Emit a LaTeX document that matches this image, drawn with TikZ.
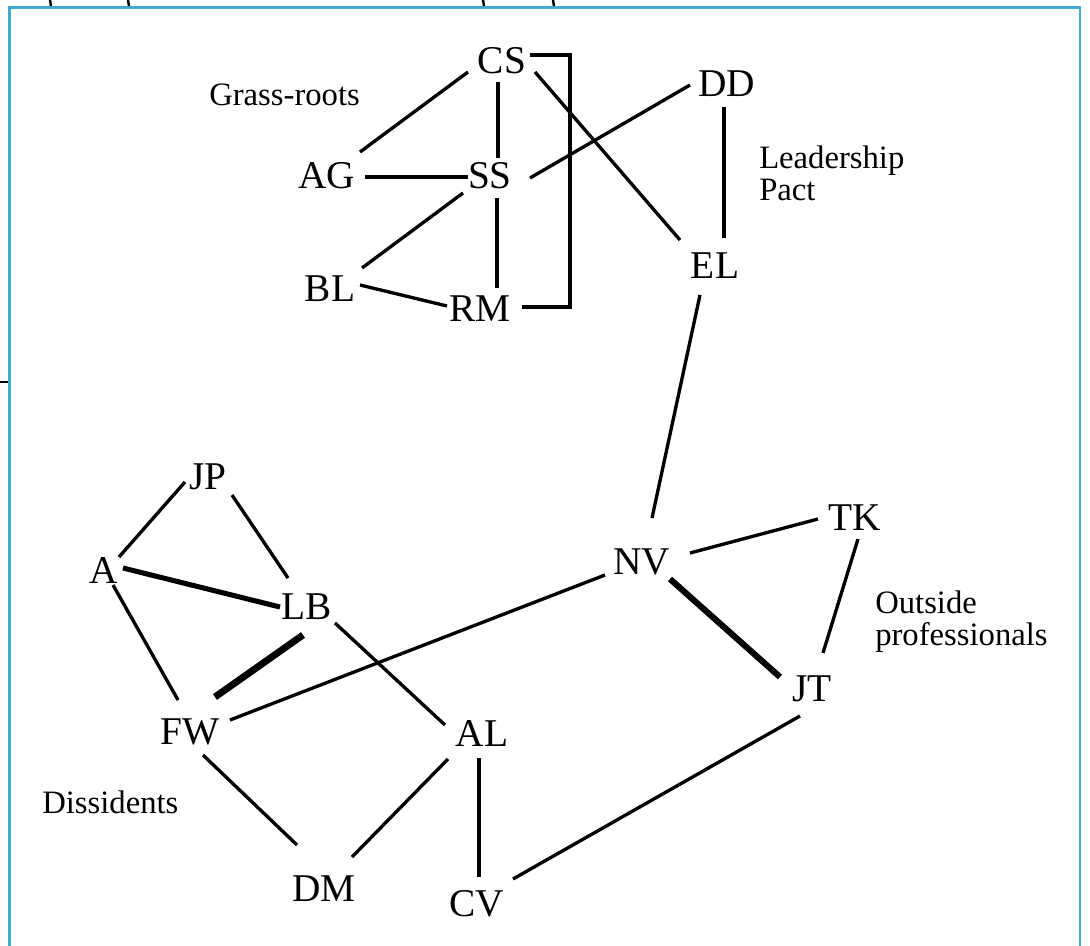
\documentclass[tikz,border=0pt]{standalone}
\usepackage{fontspec}
\setmainfont{Liberation Serif}
\usetikzlibrary{calc}
\definecolor{framecyan}{RGB}{62,172,202}
\begin{document}
\begin{tikzpicture}[x=0.75pt,y=-0.75pt,
  actor/.style={font=\fontsize{29.5}{30}\selectfont, inner sep=4pt},
  grouplabel/.style={font=\fontsize{24.5}{24}\selectfont, align=left, inner sep=0pt},
  tie/.style={line width=2.5pt},
  midtie/.style={line width=3.2pt},
  strongtie/.style={line width=4.6pt},
  scanmark/.style={line width=1.8pt, black}
]
\useasboundingbox (0,0) rectangle (1090,946);
% frame
\draw[framecyan, line width=2.2pt] (9.5,960) -- (9.5,7.5) -- (1080,7.5) -- (1080,960);
% scan marks
\draw[scanmark] (50,0) -- (51,6);
\draw[scanmark] (128,0) -- (129,6);
\draw[scanmark] (483,0) -- (484,6);
\draw[scanmark] (553,0) -- (554,6);
\draw[scanmark] (0,382) -- (8,382);

% actors
\node[actor] (CS) at (502,61) {CS};
\node[actor] (DD) at (727,84) {DD};
\node[actor] (AG) at (327,176) {AG};
\node[actor] (SS) at (490,176) {SS};
\node[actor] (EL) at (715,266) {EL};
\node[actor] (BL) at (330,289) {BL};
\node[actor] (RM) at (480,309) {RM};
\node[actor] (JP) at (208,477) {JP};
\node[actor] (TK) at (855,518) {TK};
\node[actor] (A)  at (104,571) {A};
\node[actor] (NV) at (642,562) {NV};
\node[actor] (LB) at (307,607) {LB};
\node[actor] (JT) at (812,689) {JT};
\node[actor] (FW) at (190,732) {FW};
\node[actor] (AL) at (482,734) {AL};
\node[actor] (DM) at (324,889) {DM};
\node[actor] (CV) at (477,904) {CV};

% group labels
\node[grouplabel, anchor=west] (grass) at (209,95) {Grass-roots};
\node[grouplabel, anchor=north west] (lead) at (759,146) {Leadership\\Pact};
\node[grouplabel, anchor=north west] (outs) at (875,591) {Outside\\professionals};
\node[grouplabel, anchor=west] (diss) at (42,802) {Dissidents};

% ties (end points offset from the node centres, as in the hand drawing)
\draw[tie] ($(CS)+(-34,11)$) -- ($(AG)+(33,-24)$);
\draw[tie] ($(CS)+(-4,21)$) -- ($(SS)+(8,-18)$);
\draw[tie] ($(CS)+(33,11)$) -- ($(EL)+(-35,-26)$);
\draw[tie] ($(SS)+(40,2)$) -- ($(DD)+(-37,1)$);
\draw[tie] ($(AG)+(38,1)$) -- ($(SS)+(-22,1)$);
\draw[tie] ($(SS)+(-27,17)$) -- ($(BL)+(32,-21)$);
\draw[tie] ($(SS)+(7,22)$) -- ($(RM)+(17,-21)$);
\draw[tie] ($(BL)+(30,-4)$) -- ($(RM)+(-33,-3)$);
\draw[midtie] ($(DD)+(-3,23)$) -- ($(EL)+(9,-28)$);
\coordinate (brk) at (570,180);
\draw[midtie] ($(CS)+(28,-6)$) -| (brk) |- ($(RM)+(42,-2)$);
\draw[tie] ($(EL)+(-15,29)$) -- ($(NV)+(10,-44)$);
\draw[tie] ($(NV)+(48,-9)$) -- ($(TK)+(-37,1)$);
\draw[strongtie] ($(NV)+(28,17)$) -- ($(JT)+(-32,-12)$);
\draw[tie] ($(TK)+(3,21)$) -- ($(JT)+(11,-36)$);
\draw[tie] ($(NV)+(-37,13)$) -- ($(FW)+(40,-12)$);
\draw[tie] ($(JP)+(-23,5)$) -- ($(A)+(15,-14)$);
\draw[tie] ($(JP)+(24,18)$) -- ($(LB)+(-19,-29)$);
\draw[line width=3.8pt] ($(A)+(19,-3)$) -- ($(LB)+(-27,0)$);
\draw[tie] ($(A)+(9,14)$) -- ($(FW)+(-12,-32)$);
\draw[line width=5.2pt] ($(LB)+(-4,28)$) -- ($(FW)+(25,-35)$);
\draw[tie] ($(LB)+(28,16)$) -- ($(AL)+(-37,-9)$);
\draw[tie] ($(FW)+(13,23)$) -- ($(DM)+(-27,-44)$);
\draw[tie] ($(AL)+(-34,25)$) -- ($(DM)+(28,-32)$);
\draw[midtie] ($(AL)+(-3,24)$) -- ($(CV)+(2,-27)$);
\draw[tie] ($(JT)+(-12,27)$) -- ($(CV)+(36,-25)$);
\end{tikzpicture}
\end{document}
